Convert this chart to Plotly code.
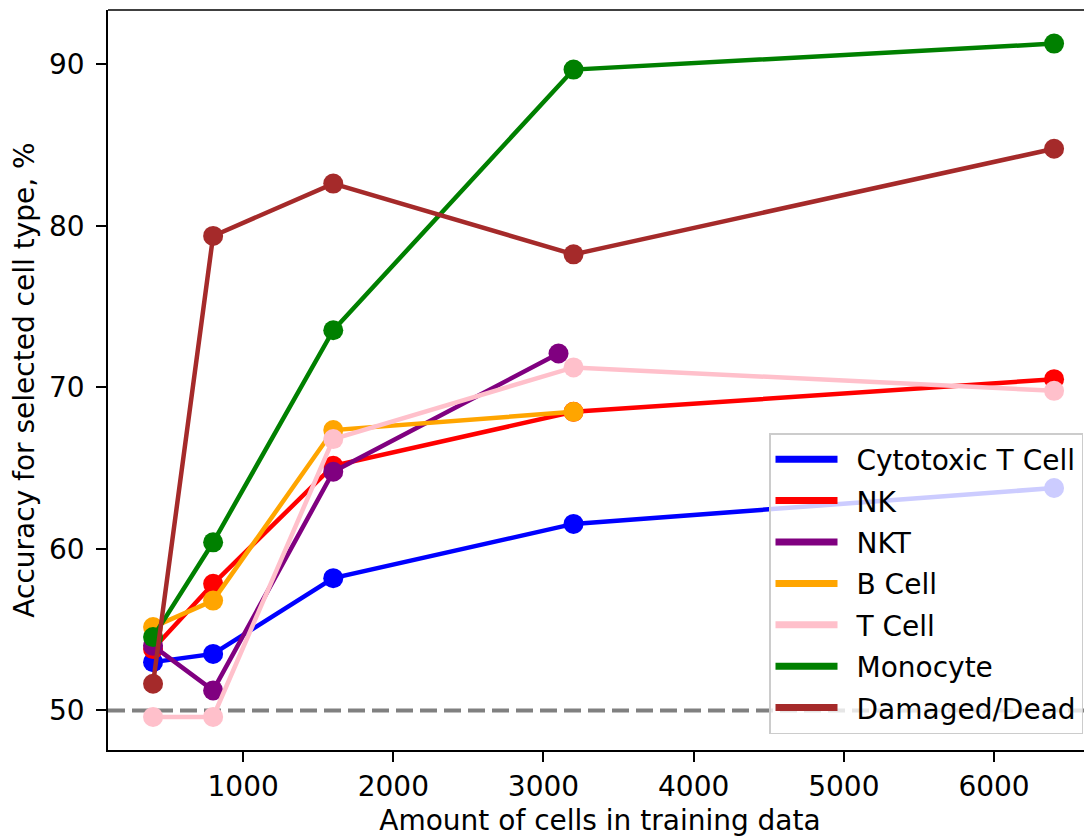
import plotly.graph_objects as go

x_main = [400, 800, 1600, 3200, 6400]
x_nkt = [400, 800, 1600, 3100]
x_bcell = [400, 800, 1600, 3200]

cytotoxic_t = [52.99, 53.5, 58.19, 61.55, 63.77]
nk = [53.8, 57.84, 65.15, 68.49, 70.51]
nkt = [54.0, 51.24, 64.78, 72.1]
b_cell = [55.16, 56.8, 67.36, 68.49]
t_cell = [49.6, 49.6, 66.8, 71.24, 69.79]
monocyte = [54.54, 60.41, 73.54, 89.68, 91.29]
damaged = [51.65, 79.38, 82.62, 78.24, 84.78]

series = [
    ("Cytotoxic T Cell", x_main, cytotoxic_t, "blue"),
    ("NK", x_main, nk, "red"),
    ("NKT", x_nkt, nkt, "purple"),
    ("B Cell", x_bcell, b_cell, "orange"),
    ("T Cell", x_main, t_cell, "pink"),
    ("Monocyte", x_main, monocyte, "green"),
    ("Damaged/Dead", x_main, damaged, "brown"),
]

chance_level = 50
x_ticks = [1000, 2000, 3000, 4000, 5000, 6000]
y_ticks = [50, 60, 70, 80, 90]

FONT = "DejaVu Sans"
FS = 28

fig = go.Figure()

fig.add_hline(y=chance_level, line=dict(color="gray", width=4, dash="17px,7px"), layer="below")

for name, xs, ys, col in series:
    fig.add_trace(go.Scatter(
        x=xs, y=ys, mode="lines+markers", name=name, showlegend=False,
        line=dict(color=col, width=4.5), marker=dict(color=col, size=20),
        cliponaxis=False,
    ))

for name, xs, ys, col in series:
    fig.add_trace(go.Scatter(
        x=[None], y=[None], mode="lines", name="\u2002" + name, legendgroup=name,
        line=dict(color=col, width=7),
    ))

# page body has an 8px margin: figure is drawn at (8, 8) in the window
fig.update_layout(
    width=1084, height=832,
    margin=dict(l=100, r=0, t=2, b=90),
    plot_bgcolor="white", paper_bgcolor="white",
    font=dict(family=FONT, size=FS, color="black"),
    showlegend=True,
    legend=dict(
        x=(761 - 100) / 984, y=(742 - 425) / 740, xanchor="left", yanchor="top",
        bgcolor="rgba(255,255,255,0.8)", bordercolor="#cccccc", borderwidth=1.5,
        font=dict(family=FONT, size=FS, color="black"),
        traceorder="grouped", tracegroupgap=2, itemwidth=62,
    ),
    xaxis=dict(
        range=[100, 6652.6], tickvals=x_ticks, showgrid=False, zeroline=False,
        showline=True, linecolor="black", linewidth=1.5, mirror=False,
        ticks="outside", ticklen=10, tickwidth=1.5, tickcolor="black",
        title=dict(text="Amount of cells in training data", font=dict(size=FS), standoff=8),
        ticklabelstandoff=1,
    ),
    yaxis=dict(
        range=[47.55, 93.37], tickvals=y_ticks, showgrid=False, zeroline=False,
        showline=True, linecolor="black", linewidth=1.5,
        ticks="outside", ticklen=10, tickwidth=1.5, tickcolor="black",
        title=dict(text="Accuracy for selected cell type, %", font=dict(size=FS), standoff=11),
        ticklabelstandoff=6,
    ),
)

fig.add_shape(type="line", xref="paper", yref="paper", x0=0, x1=1, y0=1, y1=1,
              line=dict(color="black", width=1.5))

fig.write_html("out.html")
